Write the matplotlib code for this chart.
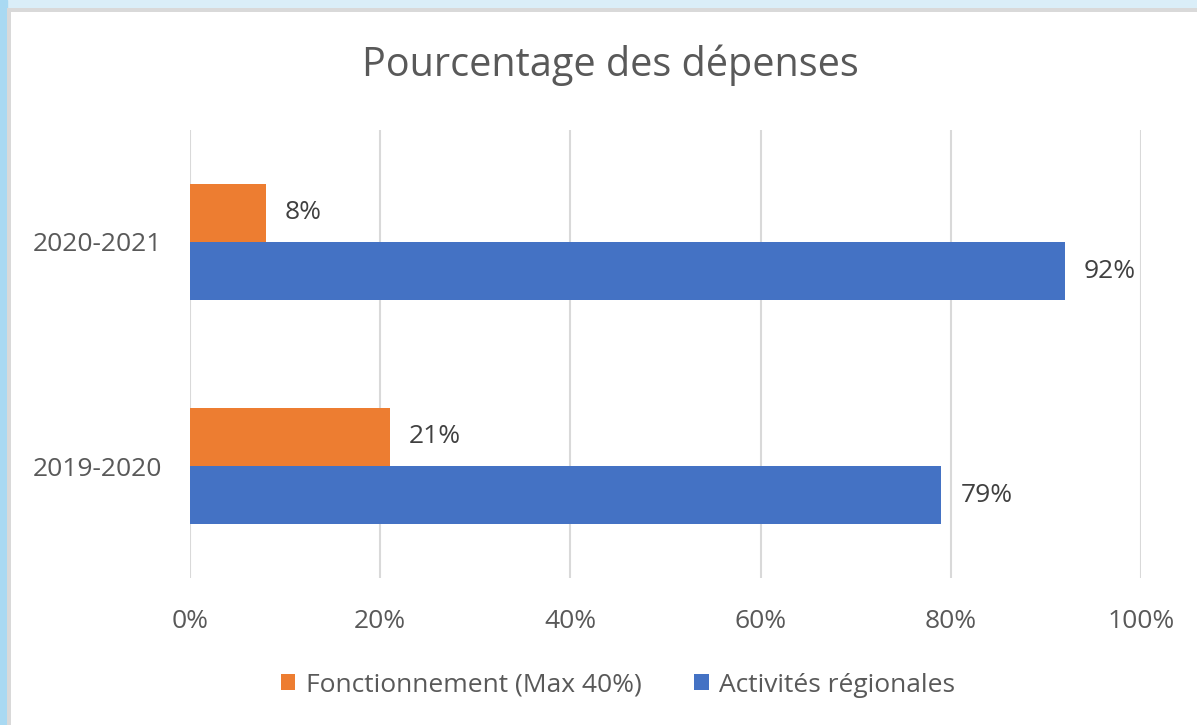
import matplotlib.pyplot as plt
from matplotlib.patches import Rectangle
import numpy as np

plt.rcParams['font.family'] = ['Open Sans', 'DejaVu Sans']

years = ['2019-2020', '2020-2021']
fonctionnement = [21, 8]
activites = [79, 92]
xticks = [0, 20, 40, 60, 80, 100]

orange = '#ED7D31'
blue = '#4472C4'
grey_txt = '#595959'

fig = plt.figure(figsize=(11.97, 7.25), dpi=100)
fig.patch.set_facecolor('#DAEEF8')
# light blue edge on the left + white card with grey frame
fig.add_artist(Rectangle((0, 0), 7/1197, 1, transform=fig.transFigure, color='#A9D9F2', zorder=0))
fig.add_artist(Rectangle((7/1197, 0), 1, 1 - 8/725, transform=fig.transFigure,
                         facecolor='#D9D9D9', edgecolor='none', zorder=0))
fig.add_artist(Rectangle((11/1197, 0), 1, 1 - 12/725, transform=fig.transFigure,
                         facecolor='white', edgecolor='none', zorder=0))

ax = fig.add_axes([190/1197, 147/725, 951/1197, 448/725])
ax.set_facecolor('none')

y = np.arange(len(years))
h = 0.26
ax.barh(y + h/2, fonctionnement, height=h, color=orange, label='Fonctionnement (Max 40%)', zorder=3)
ax.barh(y - h/2, activites, height=h, color=blue, label='Activités régionales', zorder=3)

for i in range(len(years)):
    ax.text(fonctionnement[i] + 2, y[i] + h/2, f'{fonctionnement[i]}%', va='center', ha='left',
            fontsize=19, color='#404040')
    ax.text(activites[i] + 2, y[i] - h/2, f'{activites[i]}%', va='center', ha='left',
            fontsize=19, color='#404040')

ax.set_xlim(0, 100)
ax.set_ylim(-0.5, 1.5)
ax.set_xticks(xticks)
ax.set_xticklabels([f'{t}%' for t in xticks], fontsize=19, color=grey_txt)
ax.set_yticks(y)
ax.set_yticklabels(years, fontsize=19, color=grey_txt)
ax.tick_params(length=0, pad=20)
ax.tick_params(axis='x', pad=22)
ax.grid(axis='x', color='#D9D9D9', linewidth=1.5, zorder=0)
for s in ax.spines.values():
    s.set_visible(False)

fig.text(610/1197, 1 - 65/725, 'Pourcentage des dépenses', ha='center', va='center',
         fontsize=28.5, color=grey_txt)

ax.legend(loc='center', bbox_to_anchor=(618/1197, 1 - 685/725), bbox_transform=fig.transFigure,
          ncol=2, frameon=False, fontsize=19, handlelength=0.55, handleheight=0.55,
          handletextpad=0.4, columnspacing=2.0, labelcolor=grey_txt)

fig.savefig('out.png', dpi=100)
